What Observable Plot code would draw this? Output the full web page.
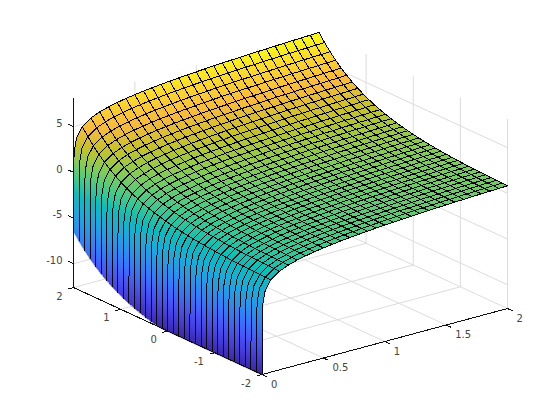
<!DOCTYPE html>
<html>
<head>
<meta charset="utf-8">
<style>html,body{margin:0;padding:0;background:#fff}svg{display:block}</style>
<script src="https://cdn.jsdelivr.net/npm/d3@7"></script>
<script src="https://cdn.jsdelivr.net/npm/@observablehq/plot@0.6"></script>
</head>
<body>
<div id="chart"></div>
<script>
// surface: z at node (i,j) = xPart[i] + yPart[j]
const xNodes = [0.000001,0.0015,0.006,0.025,0.0714,0.1429,0.2143,0.2857,0.3571,0.4286,0.5,0.5714,0.6429,0.7143,0.7857,0.8571,0.9286,1,1.0714,1.1429,1.2143,1.2857,1.3571,1.4286,1.5,1.5714,1.6429,1.7143,1.7857,1.8571,1.9286,2];
const xPart = [-13.8,-6.5,-5.1,-3.69,-2.639,-1.946,-1.54,-1.253,-1.03,-0.847,-0.693,-0.56,-0.442,-0.336,-0.241,-0.154,-0.074,0,0.069,0.134,0.194,0.251,0.305,0.357,0.405,0.452,0.496,0.539,0.58,0.619,0.657,0.693];
const yNodes = [-2,-1.8824,-1.7647,-1.6471,-1.5294,-1.4118,-1.2941,-1.1765,-1.0588,-0.9412,-0.8235,-0.7059,-0.5882,-0.4706,-0.3529,-0.2353,-0.1176,0,0.1176,0.2353,0.3529,0.4706,0.5882,0.7059,0.8235,0.9412,1.0588,1.1765,1.2941,1.4118,1.5294,1.6471,1.7647,1.8824,2];
const yPart = [0.1353,0.1522,0.1712,0.1926,0.2167,0.2437,0.2741,0.3084,0.3469,0.3902,0.4389,0.4937,0.5553,0.6247,0.7027,0.7904,0.8891,1.0001,1.1248,1.2652,1.4232,1.6009,1.8008,2.0256,2.2785,2.563,2.883,3.243,3.6479,4.1033,4.6156,5.1919,5.8401,6.5692,7.389];
const xTicks = [0,0.5,1,1.5,2];
const yTicks = [-2,-1,0,1,2];
const zTicks = [-10,-5,0,5];
const xLimits = [0,2];
const yLimits = [-2,2];
const zLimits = [-12.6,8.08];
const parula = ["#3e26a8","#463cde","#4758f8","#327bfc","#2796eb","#18addb","#0bbdbd","#3fca8e","#80cc59","#c5c22a","#f8ba3d","#fad62d","#f9fb14"];

const project = (x, y, z) => {
  const u = (x - xLimits[0]) / (xLimits[1] - xLimits[0]);
  const v = (y - yLimits[0]) / (yLimits[1] - yLimits[0]);
  const w = (z - zLimits[0]) / (zLimits[1] - zLimits[0]);
  return {px: 0.793 * u - 0.609 * v, py: 0.2135 * u + 0.2815 * v + 0.6117 * w};
};
const nodeZ = (i, j) => Math.max(xPart[i] + yPart[j], zLimits[0]);
const seg = (rows, id, a, b) => { rows.push({id, ...project(...a)}, {id, ...project(...b)}); };

// gray grid on floor and back walls
const grid = [];
let gid = 0;
for (const x of xTicks) { seg(grid, gid++, [x,yLimits[0],zLimits[0]], [x,yLimits[1],zLimits[0]]); seg(grid, gid++, [x,yLimits[1],zLimits[0]], [x,yLimits[1],zLimits[1]]); }
for (const y of yTicks) { seg(grid, gid++, [xLimits[0],y,zLimits[0]], [xLimits[1],y,zLimits[0]]); seg(grid, gid++, [xLimits[1],y,zLimits[0]], [xLimits[1],y,zLimits[1]]); }
for (const z of zTicks) { seg(grid, gid++, [xLimits[0],yLimits[1],z], [xLimits[1],yLimits[1],z]); seg(grid, gid++, [xLimits[1],yLimits[1],z], [xLimits[1],yLimits[0],z]); }

// shaded facets: each cell is split so its colour follows its corner heights
const facets = [];
let fid = 0;
for (let i = xNodes.length - 2; i >= 0; --i) {
  const ns = i === 0 ? 60 : i < 4 ? 6 : 2;
  for (let j = yNodes.length - 2; j >= 0; --j) {
    const nt = i === 0 ? 1 : 2;
    for (let s = 0; s < ns; ++s) for (let t = 0; t < nt; ++t) {
      const corner = (a, b) => {
        const ss = (s + a) / ns, tt = (t + b) / nt;
        const x = xNodes[i] + (xNodes[i+1] - xNodes[i]) * ss;
        const y = yNodes[j] + (yNodes[j+1] - yNodes[j]) * tt;
        const z = (1-ss)*(1-tt)*nodeZ(i,j) + ss*(1-tt)*nodeZ(i+1,j) + (1-ss)*tt*nodeZ(i,j+1) + ss*tt*nodeZ(i+1,j+1);
        return {x, y, z};
      };
      const cs = [corner(0,0), corner(1,0), corner(1,1), corner(0,1)];
      const zm = d3.mean(cs, c => c.z);
      for (const c of cs) facets.push({id: fid, zm, ...project(c.x, c.y, c.z)});
      fid++;
    }
  }
}

// black mesh lines
const mesh = [];
let mid = 0;
xNodes.forEach((x, i) => { if (i < 4) return; yNodes.forEach((y, j) => mesh.push({id: mid, ...project(x, y, nodeZ(i,j))})); mid++; });
yNodes.forEach((y, j) => { xNodes.forEach((x, i) => mesh.push({id: mid, ...project(x, y, nodeZ(i,j))})); mid++; });

// axis lines and ticks
const axes = [];
let aid = 0;
seg(axes, aid++, [xLimits[0],yLimits[0],zLimits[0]], [xLimits[1],yLimits[0],zLimits[0]]);
seg(axes, aid++, [xLimits[0],yLimits[0],zLimits[0]], [xLimits[0],yLimits[1],zLimits[0]]);
seg(axes, aid++, [xLimits[0],yLimits[1],zLimits[0]], [xLimits[0],yLimits[1],zLimits[1]]);
for (const x of xTicks) seg(axes, aid++, [x,yLimits[0],zLimits[0]], [x,yLimits[0]-0.1,zLimits[0]]);
for (const y of yTicks) seg(axes, aid++, [xLimits[0],y,zLimits[0]], [xLimits[0]-0.04,y,zLimits[0]]);
for (const z of zTicks) seg(axes, aid++, [xLimits[0],yLimits[1],z], [xLimits[0],yLimits[1]+0.1,z]);

const xLabels = xTicks.map(x => ({t: String(x), ...project(x, yLimits[0], zLimits[0])}));
const yLabels = yTicks.map(y => ({t: String(y), ...project(xLimits[0], y, zLimits[0])}));
const zLabels = zTicks.map(z => ({t: String(z), ...project(xLimits[0], yLimits[1], z)}));
const textStyle = {x: "px", y: "py", text: "t", fontSize: 10, fill: "#444", fontFamily: "DejaVu Sans", lineAnchor: "middle"};

const chart = Plot.plot({
  width: 560, height: 420,
  marginLeft: 73, marginRight: 53, marginTop: 32, marginBottom: 46,
  x: {type: "linear", domain: [-0.609, 0.793], axis: null},
  y: {type: "linear", domain: [0, 1.1067], axis: null},
  color: {type: "linear", domain: zLimits, interpolate: d3.piecewise(d3.interpolateRgb, parula)},
  style: {background: "#fff"},
  marks: [
    Plot.line(grid, {x: "px", y: "py", z: "id", stroke: "#dcdcdc", strokeWidth: 1}),
    Plot.line(facets, {x: "px", y: "py", z: "id", fill: "zm", stroke: "zm", strokeWidth: 0.6, curve: "linear-closed", shapeRendering: "crispEdges"}),
    Plot.line(mesh, {x: "px", y: "py", z: "id", stroke: "#000", strokeWidth: 1, shapeRendering: "crispEdges"}),
    Plot.line(axes, {x: "px", y: "py", z: "id", stroke: "#111", strokeWidth: 1, shapeRendering: "crispEdges"}),
    Plot.text(xLabels, {...textStyle, textAnchor: "start", dx: 9, dy: 10}),
    Plot.text(yLabels, {...textStyle, textAnchor: "end", dx: -11, dy: 9}),
    Plot.text(zLabels, {...textStyle, textAnchor: "end", dx: -11, dy: -3})
  ]
});
document.getElementById("chart").append(chart);
</script>
</body>
</html>
